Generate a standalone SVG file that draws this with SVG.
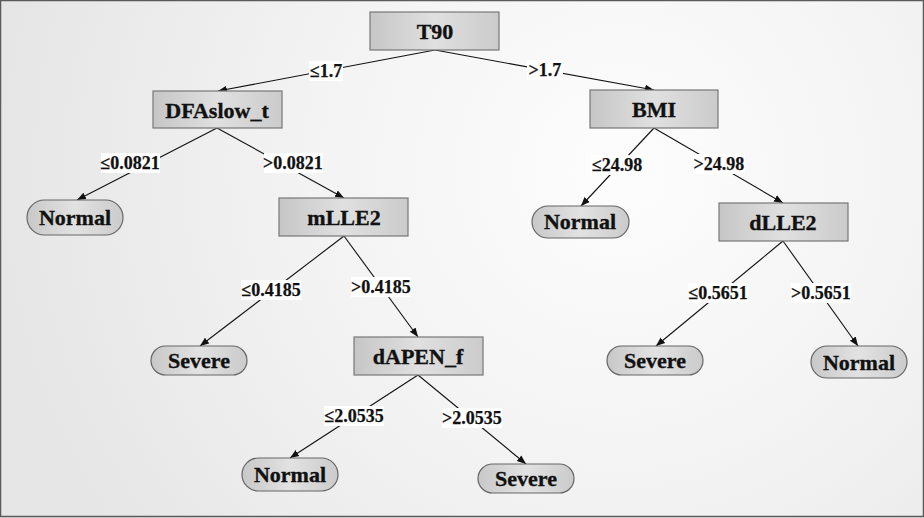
<svg xmlns="http://www.w3.org/2000/svg" width="924" height="518" viewBox="0 0 924 518">
<defs>
<radialGradient id="bg" cx="620" cy="170" r="620" gradientUnits="userSpaceOnUse">
<stop offset="0" stop-color="#fdfdfd"/>
<stop offset="0.5" stop-color="#f3f3f3"/>
<stop offset="1" stop-color="#e6e6e6"/>
</radialGradient>
<linearGradient id="box" x1="0" y1="0" x2="1" y2="0">
<stop offset="0" stop-color="#c6c6c6"/>
<stop offset="0.5" stop-color="#e0e0e0"/>
<stop offset="1" stop-color="#cbcbcb"/>
</linearGradient>
<linearGradient id="leaf" x1="0" y1="0" x2="1" y2="0">
<stop offset="0" stop-color="#c8c8c8"/>
<stop offset="0.5" stop-color="#e2e2e2"/>
<stop offset="1" stop-color="#cbcbcb"/>
</linearGradient>
<marker id="ah" viewBox="0 0 10 10" refX="10" refY="5" markerWidth="9" markerHeight="9" markerUnits="userSpaceOnUse" orient="auto">
<path d="M0,1 L10,5 L0,9 z" fill="#111"/>
</marker>
</defs>
<style>
.box{fill:url(#box);stroke:#777;stroke-width:1.2}
.leaf{fill:url(#leaf);stroke:#666;stroke-width:1.2}
.nt{font-family:"Liberation Serif","Times New Roman",serif;font-weight:bold;font-size:22px;fill:#111;stroke:#111;stroke-width:0.35;text-anchor:middle}
.edge{stroke:#111;stroke-width:1.1;fill:none;marker-end:url(#ah)}
.lb{fill:#fff}
.lt{font-family:"Liberation Serif","Times New Roman",serif;font-weight:bold;font-size:18px;fill:#111;stroke:#111;stroke-width:0.25;text-anchor:middle}
</style>
<rect x="0" y="0" width="924" height="518" fill="url(#bg)"/>
<rect x="0.5" y="0.5" width="923" height="516" fill="none" stroke="#5a5a5a" stroke-width="1.5"/>

<g id="connectors">
<line class="edge" x1="435" y1="50" x2="218" y2="91"/>
<line class="edge" x1="435" y1="50" x2="654" y2="90"/>
<line class="edge" x1="217" y1="128" x2="77" y2="200"/>
<line class="edge" x1="217" y1="128" x2="344" y2="198"/>
<line class="edge" x1="654" y1="128" x2="581" y2="206"/>
<line class="edge" x1="654" y1="128" x2="783" y2="203"/>
<line class="edge" x1="344" y1="236" x2="200" y2="346"/>
<line class="edge" x1="344" y1="236" x2="418" y2="337"/>
<line class="edge" x1="783" y1="241" x2="656" y2="346"/>
<line class="edge" x1="783" y1="241" x2="858" y2="346"/>
<line class="edge" x1="418" y1="375" x2="290" y2="458"/>
<line class="edge" x1="418" y1="375" x2="526" y2="464"/>

<rect class="lb" x="309" y="61" width="34" height="20"/>
<text class="lt" x="326" y="77">≤1.7</text>
<rect class="lb" x="527" y="60" width="36" height="20"/>
<text class="lt" x="545" y="76">&gt;1.7</text>
<rect class="lb" x="101" y="153" width="59" height="20"/>
<text class="lt" x="130" y="169">≤0.0821</text>
<rect class="lb" x="264" y="153" width="59" height="20"/>
<text class="lt" x="293" y="169">&gt;0.0821</text>
<rect class="lb" x="591" y="155" width="52" height="20"/>
<text class="lt" x="617" y="171">≤24.98</text>
<rect class="lb" x="693" y="154" width="52" height="20"/>
<text class="lt" x="719" y="170">&gt;24.98</text>
<rect class="lb" x="241" y="280" width="60" height="20"/>
<text class="lt" x="271" y="296">≤0.4185</text>
<rect class="lb" x="351" y="277" width="60" height="20"/>
<text class="lt" x="381" y="293">&gt;0.4185</text>
<rect class="lb" x="688" y="283" width="60" height="20"/>
<text class="lt" x="718" y="299">≤0.5651</text>
<rect class="lb" x="791" y="283" width="60" height="20"/>
<text class="lt" x="821" y="299">&gt;0.5651</text>
<rect class="lb" x="324" y="406" width="60" height="20"/>
<text class="lt" x="354" y="422">≤2.0535</text>
<rect class="lb" x="442" y="408" width="60" height="20"/>
<text class="lt" x="472" y="424">&gt;2.0535</text>
</g>

<g id="T90"><rect class="box" x="370" y="12" width="129" height="38"/><text class="nt" x="435" y="39">T90</text></g>
<g id="DFAslow_t"><rect class="box" x="153" y="91" width="129" height="37"/><text class="nt" x="217" y="118">DFAslow_t</text></g>
<g id="BMI"><rect class="box" x="590" y="90" width="128" height="38"/><text class="nt" x="654" y="117">BMI</text></g>
<g id="Normal1"><rect class="leaf" x="27" y="200" width="96" height="35" rx="17.5"/><text class="nt" x="75" y="225">Normal</text></g>
<g id="mLLE2"><rect class="box" x="279" y="198" width="129" height="38"/><text class="nt" x="344" y="225">mLLE2</text></g>
<g id="Normal2"><rect class="leaf" x="532" y="206" width="97" height="32" rx="16"/><text class="nt" x="580" y="229">Normal</text></g>
<g id="dLLE2"><rect class="box" x="719" y="203" width="129" height="38"/><text class="nt" x="783" y="230">dLLE2</text></g>
<g id="Severe1"><rect class="leaf" x="151" y="346" width="96" height="29" rx="14.5"/><text class="nt" x="199" y="368">Severe</text></g>
<g id="dAPEN_f"><rect class="box" x="354" y="337" width="129" height="38"/><text class="nt" x="418" y="364">dAPEN_f</text></g>
<g id="Severe2"><rect class="leaf" x="607" y="346" width="96" height="29" rx="14.5"/><text class="nt" x="655" y="368">Severe</text></g>
<g id="Normal3"><rect class="leaf" x="811" y="346" width="96" height="32" rx="16"/><text class="nt" x="859" y="370">Normal</text></g>
<g id="Normal4"><rect class="leaf" x="242" y="458" width="96" height="33" rx="16.5"/><text class="nt" x="290" y="482">Normal</text></g>
<g id="Severe3"><rect class="leaf" x="478" y="464" width="96" height="29" rx="14.5"/><text class="nt" x="526" y="486">Severe</text></g>
</svg>
